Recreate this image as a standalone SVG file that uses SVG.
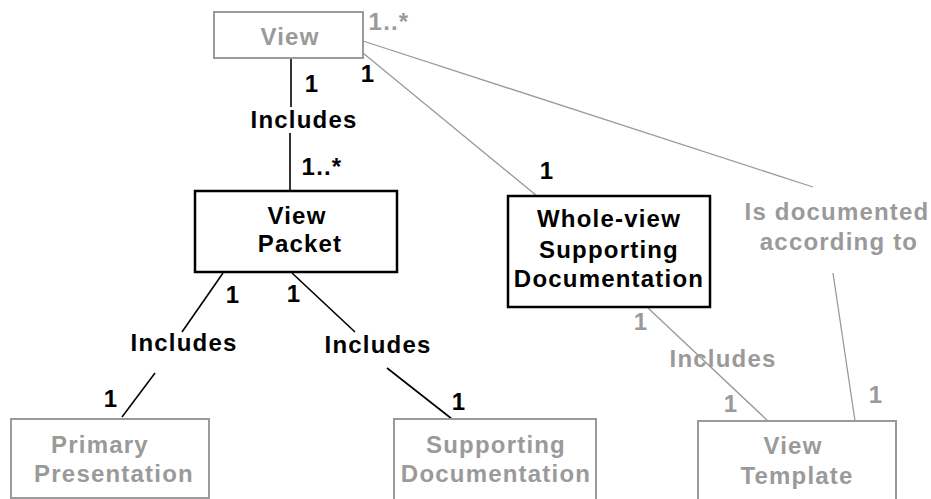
<svg xmlns="http://www.w3.org/2000/svg" width="931" height="499" viewBox="0 0 931 499">
<style>
text{font-family:"Liberation Sans",Arial,sans-serif;font-weight:bold;font-size:24px;letter-spacing:1.2px;text-anchor:middle}
.k{fill:#000}
.g{fill:#9a9a9a}
.bk{fill:#fff;stroke:#000;stroke-width:2.5}
.bg{fill:#fff;stroke:#9a9a9a;stroke-width:2}
.lk{stroke:#000;stroke-width:1.6;fill:none}
.lg{stroke:#9a9a9a;stroke-width:1.3;fill:none}
</style>
<g id="connectors">
<line class="lk" x1="291" y1="58" x2="291" y2="107"/>
<line class="lk" x1="290" y1="133" x2="290" y2="190"/>
<line class="lk" x1="223" y1="273" x2="182" y2="332"/>
<line class="lk" x1="155" y1="373" x2="122" y2="417"/>
<line class="lk" x1="292" y1="273" x2="355" y2="332"/>
<line class="lk" x1="387" y1="368" x2="452" y2="419"/>
<line class="lg" x1="363" y1="53" x2="537" y2="196"/>
<line class="lg" x1="363" y1="41" x2="813" y2="187"/>
<line class="lg" x1="833" y1="273" x2="855" y2="421"/>
<line class="lg" x1="648" y1="308" x2="768" y2="421"/>
<text class="k" x="312" y="92">1</text>
<text class="k" x="368" y="82">1</text>
<text class="g" x="389" y="30">1..*</text>
<text class="k" x="304" y="128">Includes</text>
<text class="k" x="322" y="175">1..*</text>
<text class="k" x="547" y="179">1</text>
<text class="k" x="233" y="303">1</text>
<text class="k" x="294" y="302">1</text>
<text class="k" x="184" y="351">Includes</text>
<text class="k" x="378" y="353">Includes</text>
<text class="k" x="111" y="407">1</text>
<text class="k" x="459" y="410">1</text>
<text class="g" x="837" y="220">Is documented</text>
<text class="g" x="839" y="250">according to</text>
<text class="g" x="641" y="330">1</text>
<text class="g" x="723" y="367">Includes</text>
<text class="g" x="731" y="412">1</text>
<text class="g" x="876" y="403">1</text>
</g>
<g id="view">
<rect class="bg" x="214" y="12" width="149" height="46"/>
<text class="g" x="290" y="45">View</text>
</g>
<g id="view-packet">
<rect class="bk" x="195" y="191" width="202" height="81"/>
<text class="k" x="297" y="224">View</text>
<text class="k" x="300" y="252">Packet</text>
</g>
<g id="whole-view">
<rect class="bk" x="508" y="196" width="202" height="111"/>
<text class="k" x="609" y="227">Whole-view</text>
<text class="k" x="609" y="258">Supporting</text>
<text class="k" x="609" y="287">Documentation</text>
</g>
<g id="primary-presentation">
<rect class="bg" x="11" y="419" width="198" height="79"/>
<text class="g" x="100" y="453">Primary</text>
<text class="g" x="114" y="482">Presentation</text>
</g>
<g id="supporting-documentation">
<rect class="bg" x="394" y="419" width="202" height="82"/>
<text class="g" x="496" y="453">Supporting</text>
<text class="g" x="496" y="482">Documentation</text>
</g>
<g id="view-template">
<rect class="bg" x="698" y="421" width="198" height="82"/>
<text class="g" x="793" y="454">View</text>
<text class="g" x="797" y="484">Template</text>
</g>
</svg>
